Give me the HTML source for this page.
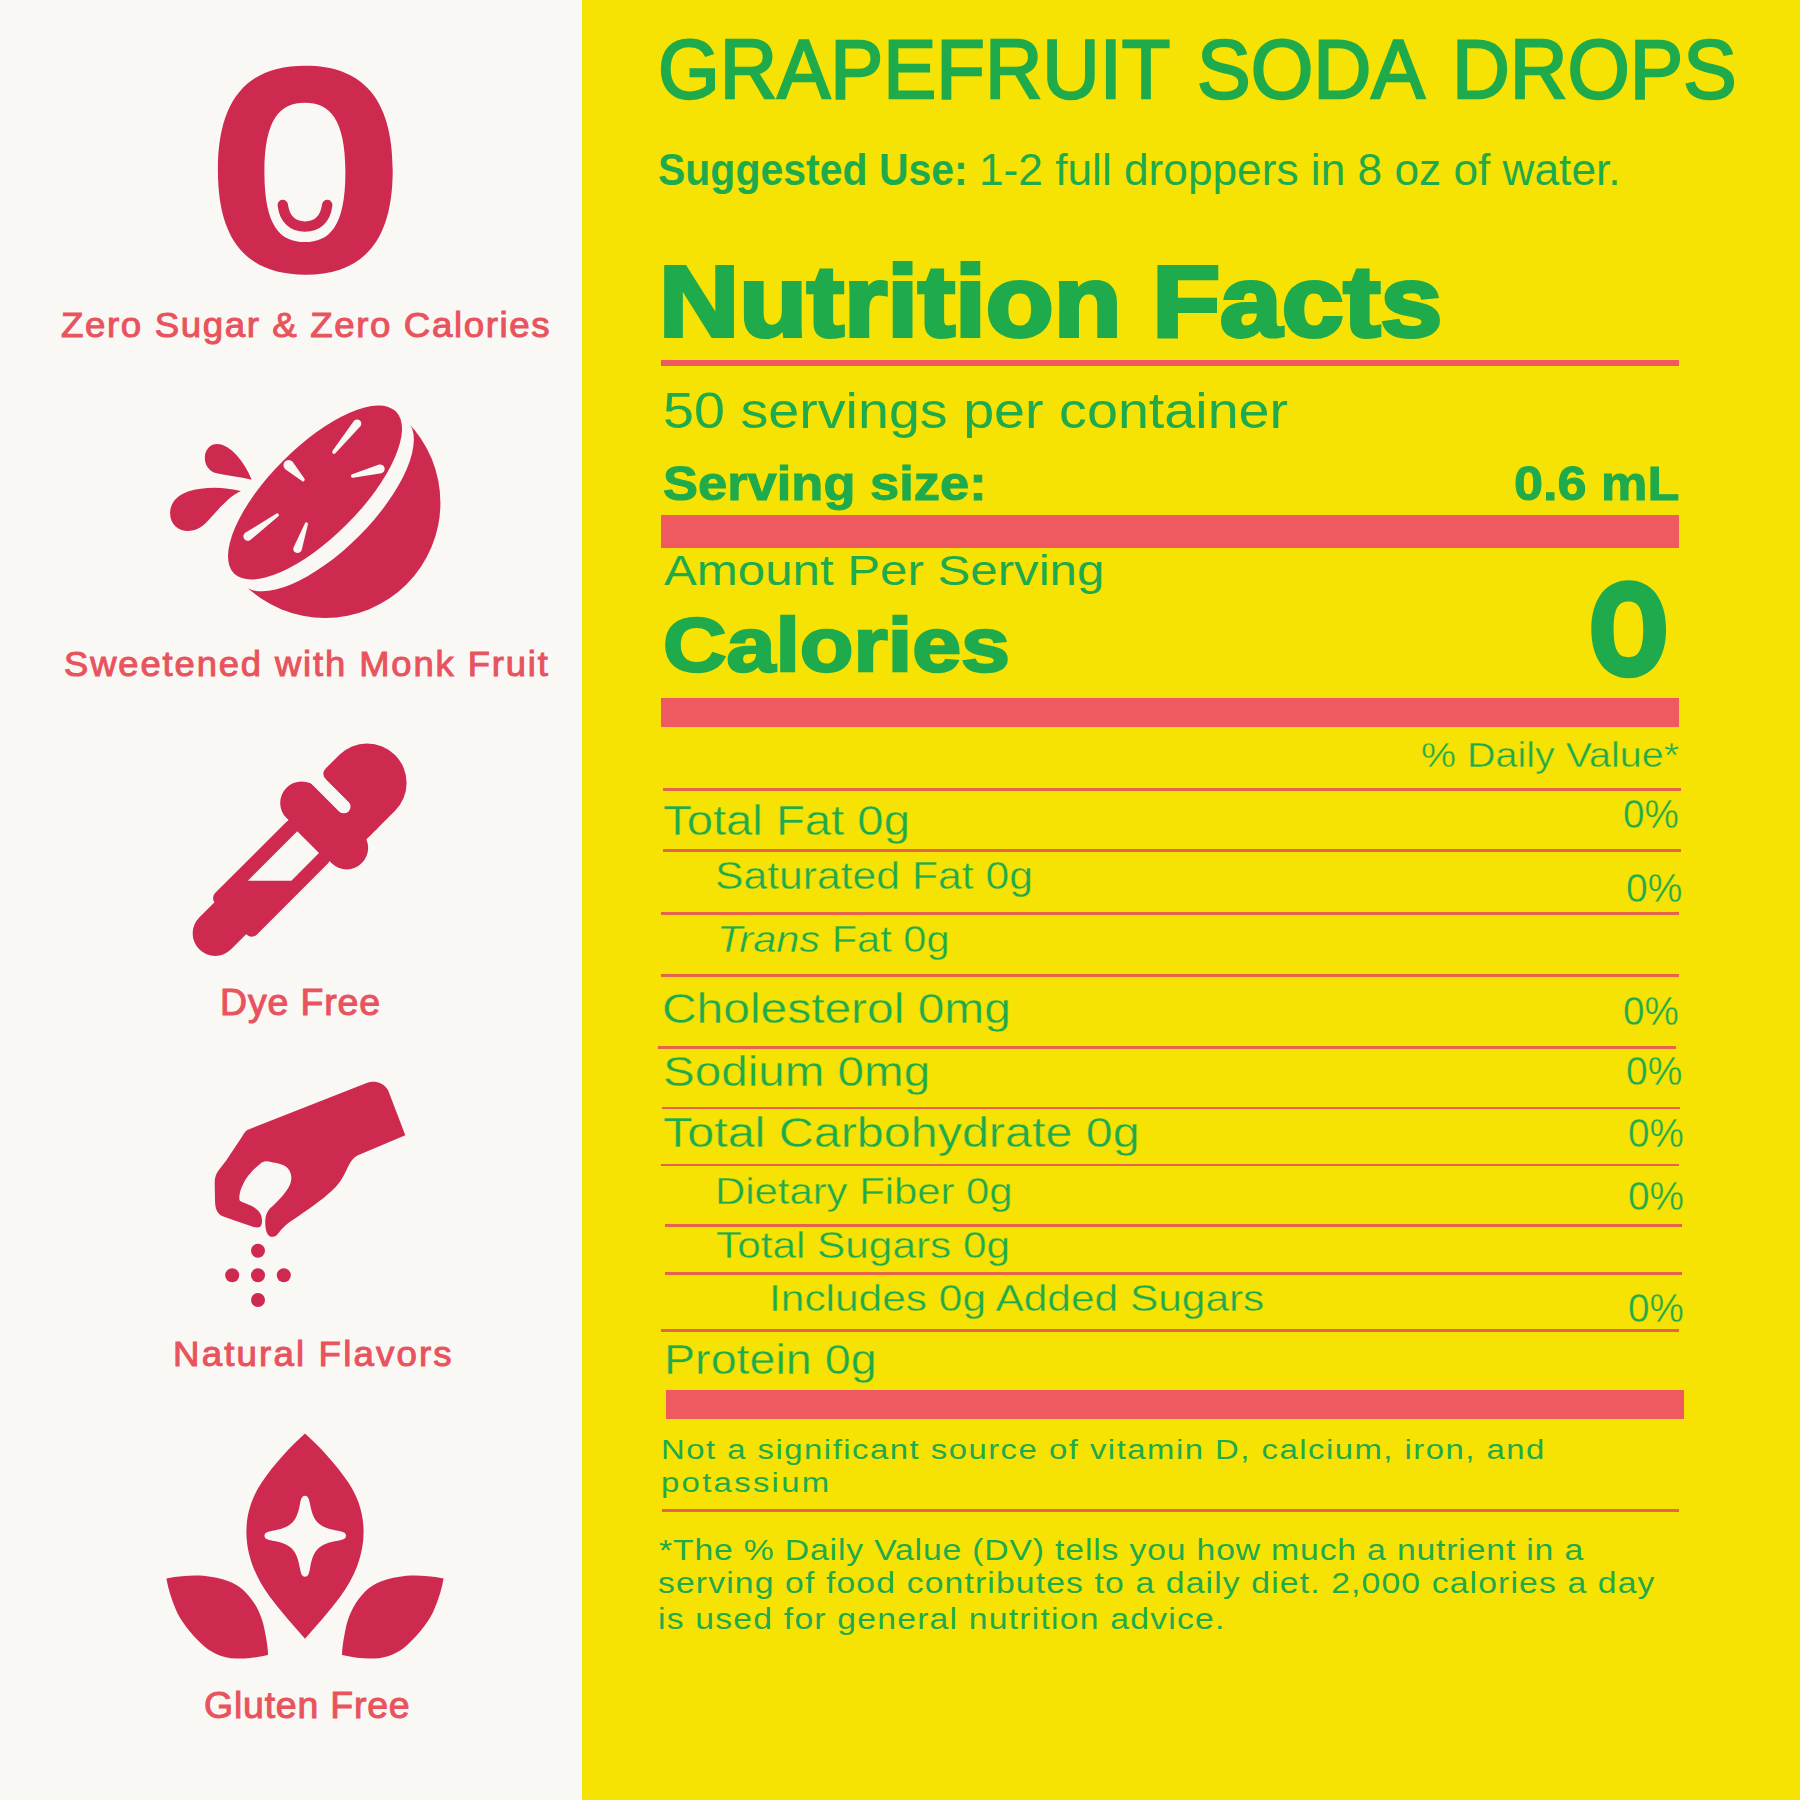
<!DOCTYPE html>
<html><head><meta charset="utf-8"><title>Grapefruit Soda Drops</title>
<style>
html,body{margin:0;padding:0}
body{width:1800px;height:1800px;position:relative;overflow:hidden;background:#faf8f4;font-family:"Liberation Sans",sans-serif}
#yl{position:absolute;left:582px;top:0;width:1218px;height:1800px;background:#f6e303}
.r{position:absolute}
.t{position:absolute;white-space:pre;transform-origin:0 0}
svg{position:absolute;left:0;top:0}
</style></head><body>
<div id="yl"></div>
<svg width="1800" height="1800" viewBox="0 0 1800 1800"><path d="M305.30,65.70 C361.24,65.70 392.70,97.05 392.70,170.20 C392.70,243.35 361.24,274.70 305.30,274.70 C249.36,274.70 217.90,243.35 217.90,170.20 C217.90,97.05 249.36,65.70 305.30,65.70 Z M304.90,102.80 C329.20,102.80 345.40,118.11 345.40,172.40 C345.40,226.69 329.20,242.00 304.90,242.00 C280.60,242.00 264.40,226.69 264.40,172.40 C264.40,118.11 280.60,102.80 304.90,102.80 Z" fill="#ce2a50" fill-rule="evenodd"/><path d="M282.8,205 C284.6,219.5 293,226.6 305,226.6 C317,226.6 325.4,219.5 327.2,205" fill="none" stroke="#ce2a50" stroke-width="10.4" stroke-linecap="round"/><path d="M406.66,421.24 A115.2,115.2 0 0 1 243.74,584.16 Z" fill="#ce2a50"/><ellipse cx="325.2" cy="502.7" rx="116.0" ry="47.5" transform="rotate(-45 325.2 502.7)" fill="#faf8f4"/><ellipse cx="315.0" cy="492.5" rx="114.5" ry="45.0" transform="rotate(-45 315.0 492.5)" fill="#ce2a50"/><path d="M353.84,420.95 L332.60,450.86 A1.8,1.8 0 0 0 335.40,453.14 L360.36,426.25 A4.2,4.2 0 0 0 353.84,420.95 Z" fill="#faf8f4"/><path d="M284.97,469.00 L301.62,480.87 A1.8,1.8 0 0 0 304.18,478.33 L292.43,461.60 A5.25,5.25 0 0 0 284.97,469.00 Z" fill="#faf8f4"/><path d="M379.08,464.54 L352.28,474.35 A1.7,1.7 0 0 0 353.12,477.65 L381.32,473.26 A4.5,4.5 0 0 0 379.08,464.54 Z" fill="#faf8f4"/><path d="M250.39,539.96 L278.10,516.48 A1.7,1.7 0 0 0 276.10,513.72 L245.21,532.84 A4.4,4.4 0 0 0 250.39,539.96 Z" fill="#faf8f4"/><path d="M301.65,550.33 L307.91,524.53 A1.6,1.6 0 0 0 304.89,523.47 L293.55,547.47 A4.3,4.3 0 0 0 301.65,550.33 Z" fill="#faf8f4"/><path d="M251.7,479.7 C240,477 226,475.5 216.7,473.3 C209,471.5 204.8,465 204.8,458 C204.8,450 210,444.1 217,444.1 C224,444.1 231,449 236.7,455.3 C243,462 248,471 251.7,479.7 Z" fill="#ce2a50"/><path d="M241,491 C225,487 205,486 188,491.5 C175,496 170,505 170.1,513 C170,524 178,531 188,531 C200,531 207,522 215,513 C224,503 232,495 241,491 Z" fill="#ce2a50"/><g transform="translate(300,850) rotate(-45)"><rect x="13" y="-53.6" width="43" height="106.6" rx="21.5" ry="21.5" fill="#ce2a50"/><rect x="45" y="-31.5" width="25" height="71" fill="#ce2a50"/><rect x="-97.5" y="-29.6" width="115" height="58.9" rx="7" ry="7" fill="#ce2a50"/><path d="M-92,-23.5 L-119,-23.5 A22.5,22.5 0 0 0 -119,21.5 L-92,21.5 Z" fill="#ce2a50"/><path d="M54.9,-80 L68.4,-80 L68.4,0.3 A6.75,6.75 0 0 1 54.9,0.3 Z" fill="#faf8f4"/><path d="M68.4,-31.5 Q68.4,-39.5 76.4,-39.5 L94.9,-39.5 A39.5,39.5 0 0 1 94.9,39.5 L68.4,39.5 Z" fill="#ce2a50"/><path d="M11.3,-15.2 L11.3,15.6 L-27.8,15.6 L-58.6,-15.2 Z" fill="#faf8f4"/></g><path d="M247.3,1130 L367.3,1082.7 C374,1080.5 383,1082 388,1090 L405.3,1135.3 L358,1155.3 C352,1158 349,1165 346,1171 C342,1180 336,1188 327,1195 C318,1203 300,1215 289,1222.5 C283,1227 279.5,1232 276.7,1235.3 C274,1237.5 269.5,1237.5 267.5,1234 C265,1229.5 265,1222 265.5,1218 C266.5,1212 269.5,1208.5 272.7,1206 C279,1200 286,1193 289.8,1185 C292.5,1178.5 291.7,1172 287,1167.5 C283,1164 276,1163 271,1162 C266,1160.5 262.5,1161.5 259.5,1164.5 C253,1169.5 246,1177 243,1184.5 C239.5,1191 239,1197 239.5,1200 C240.5,1202 244,1202.5 248.7,1204.7 C254,1206.5 258,1209.5 260.5,1214 C262.5,1218 262.5,1224 260.5,1226.5 C258.5,1228 255.5,1227.5 253,1226.7 L235.3,1220.7 L222,1216 C216,1213 215,1206 215,1200 L214.7,1183.3 C214.5,1178 216,1174 218.5,1170.5 L226,1160.7 L242,1136.7 C243.5,1134 245,1131.5 247.3,1130 Z" fill="#ce2a50"/><circle cx="258" cy="1250.7" r="7" fill="#ce2a50"/><circle cx="232.2" cy="1275.3" r="7" fill="#ce2a50"/><circle cx="258" cy="1275.3" r="7" fill="#ce2a50"/><circle cx="283.8" cy="1275.3" r="7" fill="#ce2a50"/><circle cx="258" cy="1300" r="7" fill="#ce2a50"/><path d="M305,1433.4 C290,1447 274,1464 262,1482 C252,1497 246.4,1513 246.4,1532 C246.4,1556 256,1578 270,1597 C281,1612 294,1626 305,1638.7 C316,1626 329,1612 340,1597 C354,1578 363.6,1556 363.6,1532 C363.6,1513 358,1497 348,1482 C336,1464 320,1447 305,1433.4 Z" fill="#ce2a50"/><path d="M305,1495.8 C308,1495.8 309,1498.8 310,1503.8 C313,1521.7 319,1527.7 338,1530.7 C343,1531.7 346,1532.7 346,1535.7 C346,1538.7 343,1539.7 338,1540.7 C319,1543.7 313,1549.7 310,1568.7 C309,1573.7 308,1576.7 305,1576.7 C302,1576.7 301,1573.7 300,1568.7 C297,1549.7 291,1543.7 272.5,1540.7 C267.5,1539.7 264.5,1538.7 264.5,1535.7 C264.5,1532.7 267.5,1531.7 272.5,1530.7 C291,1527.7 297,1521.7 300,1503.8 C301,1498.8 302,1495.8 305,1495.8 Z" fill="#faf8f4"/><path d="M166.4,1578.5 C185,1575 200,1575 210.3,1576.7 C228,1579 240,1585 248,1595 C258,1606 263,1620 265,1632 C267,1642 268,1650 268,1655.1 C255,1658 245,1659 236.1,1658.5 C222,1658 210,1652 201.7,1643.9 C190,1633 180,1620 175.8,1609.5 C171,1598 168,1588 166.4,1578.5 Z" fill="#ce2a50"/><path d="M166.4,1578.5 C185,1575 200,1575 210.3,1576.7 C228,1579 240,1585 248,1595 C258,1606 263,1620 265,1632 C267,1642 268,1650 268,1655.1 C255,1658 245,1659 236.1,1658.5 C222,1658 210,1652 201.7,1643.9 C190,1633 180,1620 175.8,1609.5 C171,1598 168,1588 166.4,1578.5 Z" fill="#ce2a50" transform="translate(610,0) scale(-1,1)"/><path d="M1628.70,580.30 C1651.14,580.30 1666.10,598.92 1666.10,629.30 C1666.10,659.68 1651.14,678.30 1628.70,678.30 C1606.26,678.30 1591.30,659.68 1591.30,629.30 C1591.30,598.92 1606.26,580.30 1628.70,580.30 Z M1628.40,601.40 C1637.58,601.40 1643.20,606.98 1643.20,629.30 C1643.20,651.62 1637.58,657.20 1628.40,657.20 C1619.22,657.20 1613.60,651.62 1613.60,629.30 C1613.60,606.98 1619.22,601.40 1628.40,601.40 Z" fill="#1fab4b" fill-rule="evenodd"/></svg>
<div class="r" style="left:661px;top:360.3px;width:1018.0px;height:5.7px;background:#ef5a60"></div><div class="r" style="left:661px;top:515px;width:1018.0px;height:32.8px;background:#ef5a60"></div><div class="r" style="left:661.3px;top:698.2px;width:1017.7px;height:29.2px;background:#ef5a60"></div><div class="r" style="left:663px;top:788.2px;width:1018.0px;height:2.8px;background:#e5634a"></div><div class="r" style="left:663px;top:849.2px;width:1018.0px;height:2.8px;background:#e5634a"></div><div class="r" style="left:661.3px;top:911.8px;width:1017.7px;height:2.8px;background:#e5634a"></div><div class="r" style="left:661.3px;top:974.3px;width:1017.7px;height:2.8px;background:#e5634a"></div><div class="r" style="left:658px;top:1045.9px;width:1018.0px;height:2.8px;background:#e5634a"></div><div class="r" style="left:662.2px;top:1106.5px;width:1017.8px;height:2.8px;background:#e5634a"></div><div class="r" style="left:661.3px;top:1163.5px;width:1017.7px;height:2.8px;background:#e5634a"></div><div class="r" style="left:665px;top:1223.9px;width:1017.4px;height:2.8px;background:#e5634a"></div><div class="r" style="left:665px;top:1272.2px;width:1017.4px;height:2.8px;background:#e5634a"></div><div class="r" style="left:661.3px;top:1329.3px;width:1017.7px;height:2.8px;background:#e5634a"></div><div class="r" style="left:661.7px;top:1509.1px;width:1017.1px;height:2.8px;background:#e5634a"></div><div class="r" style="left:666.2px;top:1390px;width:1017.5px;height:28.8px;background:#ef5a60"></div>
<div class="t" style="left:658.15px;top:27.80px;font-size:83.722px;line-height:83.722px;color:#1fab4b;transform:scaleX(0.9496);-webkit-text-stroke:2.4px #1fab4b;">GRAPEFRUIT</div><div class="t" style="left:1197.12px;top:27.80px;font-size:83.722px;line-height:83.722px;color:#1fab4b;transform:scaleX(0.9606);-webkit-text-stroke:2.4px #1fab4b;">SODA</div><div class="t" style="left:1452.07px;top:27.80px;font-size:83.722px;line-height:83.722px;color:#1fab4b;transform:scaleX(0.9557);-webkit-text-stroke:2.4px #1fab4b;">DROPS</div><div class="t" style="left:658.12px;top:148.70px;font-size:43.605px;line-height:43.605px;color:#1fab4b;transform:scaleX(0.9402);"><span style="font-weight:700">Suggested Use:</span></div><div class="t" style="left:978.96px;top:148.70px;font-size:43.605px;line-height:43.605px;color:#1fab4b;transform:scaleX(1.0144);">1-2 full droppers in 8 oz of water.</div><div class="t" style="left:659.44px;top:251.80px;font-size:99.856px;line-height:99.856px;color:#1fab4b;transform:scaleX(1.1119);-webkit-text-stroke:4px #1fab4b;"><span style="font-weight:700">Nutrition Facts</span></div><div class="t" style="left:662.75px;top:386.00px;font-size:49.419px;line-height:49.419px;color:#1fab4b;transform:scaleX(1.1268);">50 servings per container</div><div class="t" style="left:662.51px;top:459.50px;font-size:47.966px;line-height:47.966px;color:#1fab4b;transform:scaleX(1.0942);-webkit-text-stroke:1px #1fab4b;"><span style="font-weight:700">Serving size:</span></div><div class="t" style="left:1513.91px;top:459.50px;font-size:47.966px;line-height:47.966px;color:#1fab4b;transform:scaleX(1.0887);-webkit-text-stroke:1px #1fab4b;"><span style="font-weight:700">0.6 mL</span></div><div class="t" style="left:664.00px;top:548.80px;font-size:42.588px;line-height:42.588px;color:#1fab4b;transform:scaleX(1.1556);">Amount Per Serving</div><div class="t" style="left:663.00px;top:606.75px;font-size:76.309px;line-height:76.309px;color:#1fab4b;transform:scaleX(1.1522);-webkit-text-stroke:2.5px #1fab4b;"><span style="font-weight:700">Calories</span></div><div class="t" style="left:1421.35px;top:737.50px;font-size:34.448px;line-height:34.448px;color:#1fab4b;transform:scaleX(1.1457);-webkit-text-stroke:0.4px #f6e303;">% Daily Value*</div><div class="t" style="left:663.07px;top:800.20px;font-size:41.716px;line-height:41.716px;color:#1fab4b;transform:scaleX(1.1332);-webkit-text-stroke:0.4px #f6e303;">Total Fat 0g</div><div class="t" style="left:1623.09px;top:794.10px;font-size:40.536px;line-height:40.536px;color:#1fab4b;transform:scaleX(0.9545);-webkit-text-stroke:0.4px #f6e303;">0%</div><div class="t" style="left:715.28px;top:857.40px;font-size:38.373px;line-height:38.373px;color:#1fab4b;transform:scaleX(1.1125);-webkit-text-stroke:0.4px #f6e303;">Saturated Fat 0g</div><div class="t" style="left:1626.02px;top:867.60px;font-size:41.384px;line-height:41.384px;color:#1fab4b;transform:scaleX(0.9411);-webkit-text-stroke:0.4px #f6e303;">0%</div><div class="t" style="left:717.20px;top:921.90px;font-size:36.919px;line-height:36.919px;color:#1fab4b;transform:scaleX(1.1260);-webkit-text-stroke:0.4px #f6e303;"><span style="font-style:italic">Trans</span> Fat 0g</div><div class="t" style="left:662.46px;top:987.20px;font-size:42.733px;line-height:42.733px;color:#1fab4b;transform:scaleX(1.1216);-webkit-text-stroke:0.4px #f6e303;">Cholesterol 0mg</div><div class="t" style="left:1622.83px;top:990.70px;font-size:41.384px;line-height:41.384px;color:#1fab4b;transform:scaleX(0.9339);-webkit-text-stroke:0.4px #f6e303;">0%</div><div class="t" style="left:662.72px;top:1051.00px;font-size:41.716px;line-height:41.716px;color:#1fab4b;transform:scaleX(1.1409);-webkit-text-stroke:0.4px #f6e303;">Sodium 0mg</div><div class="t" style="left:1626.02px;top:1051.40px;font-size:41.384px;line-height:41.384px;color:#1fab4b;transform:scaleX(0.9411);-webkit-text-stroke:0.4px #f6e303;">0%</div><div class="t" style="left:663.04px;top:1111.90px;font-size:41.861px;line-height:41.861px;color:#1fab4b;transform:scaleX(1.1574);-webkit-text-stroke:0.4px #f6e303;">Total Carbohydrate 0g</div><div class="t" style="left:1627.99px;top:1113.40px;font-size:40.536px;line-height:40.536px;color:#1fab4b;transform:scaleX(0.9545);-webkit-text-stroke:0.4px #f6e303;">0%</div><div class="t" style="left:714.90px;top:1174.40px;font-size:36.919px;line-height:36.919px;color:#1fab4b;transform:scaleX(1.1335);-webkit-text-stroke:0.4px #f6e303;">Dietary Fiber 0g</div><div class="t" style="left:1627.99px;top:1175.80px;font-size:40.678px;line-height:40.678px;color:#1fab4b;transform:scaleX(0.9545);-webkit-text-stroke:0.4px #f6e303;">0%</div><div class="t" style="left:716.38px;top:1227.20px;font-size:37.646px;line-height:37.646px;color:#1fab4b;transform:scaleX(1.1244);-webkit-text-stroke:0.4px #f6e303;">Total Sugars 0g</div><div class="t" style="left:769.42px;top:1280.00px;font-size:37.646px;line-height:37.646px;color:#1fab4b;transform:scaleX(1.1276);-webkit-text-stroke:0.4px #f6e303;">Includes 0g Added Sugars</div><div class="t" style="left:1627.99px;top:1288.10px;font-size:40.536px;line-height:40.536px;color:#1fab4b;transform:scaleX(0.9545);-webkit-text-stroke:0.4px #f6e303;">0%</div><div class="t" style="left:663.86px;top:1339.40px;font-size:41.861px;line-height:41.861px;color:#1fab4b;transform:scaleX(1.1141);-webkit-text-stroke:0.4px #f6e303;">Protein 0g</div><div class="t" style="left:660.68px;top:1434.70px;font-size:28.344px;line-height:28.344px;color:#1fab4b;transform:scaleX(1.1600);letter-spacing:1.284px;">Not a significant source of vitamin D, calcium, iron, and</div><div class="t" style="left:660.98px;top:1468.00px;font-size:28.344px;line-height:28.344px;color:#1fab4b;transform:scaleX(1.1600);letter-spacing:1.983px;">potassium</div><div class="t" style="left:658.54px;top:1536.00px;font-size:29.070px;line-height:29.070px;color:#1fab4b;transform:scaleX(1.1600);letter-spacing:0.724px;">*The % Daily Value (DV) tells you how much a nutrient in a</div><div class="t" style="left:658.04px;top:1569.30px;font-size:29.070px;line-height:29.070px;color:#1fab4b;transform:scaleX(1.1600);letter-spacing:0.977px;">serving of food contributes to a daily diet. 2,000 calories a day</div><div class="t" style="left:657.68px;top:1604.70px;font-size:29.070px;line-height:29.070px;color:#1fab4b;transform:scaleX(1.1600);letter-spacing:1.040px;">is used for general nutrition advice.</div><div class="t" style="left:60.97px;top:308.00px;font-size:35.611px;line-height:35.611px;color:#e8535e;transform:scaleX(1.0300);-webkit-text-stroke:1.0px #e8535e;letter-spacing:1.560px;">Zero Sugar &amp; Zero Calories</div><div class="t" style="left:64.27px;top:645.80px;font-size:35.320px;line-height:35.320px;color:#e8535e;transform:scaleX(1.0300);-webkit-text-stroke:1.0px #e8535e;letter-spacing:1.831px;">Sweetened with Monk Fruit</div><div class="t" style="left:219.64px;top:985.30px;font-size:36.338px;line-height:36.338px;color:#e8535e;transform:scaleX(1.0300);-webkit-text-stroke:1.0px #e8535e;letter-spacing:0.863px;">Dye Free</div><div class="t" style="left:173.14px;top:1337.00px;font-size:35.611px;line-height:35.611px;color:#e8535e;transform:scaleX(1.0300);-webkit-text-stroke:1.0px #e8535e;letter-spacing:2.083px;">Natural Flavors</div><div class="t" style="left:203.87px;top:1688.40px;font-size:36.338px;line-height:36.338px;color:#e8535e;transform:scaleX(1.0300);-webkit-text-stroke:1.0px #e8535e;letter-spacing:0.786px;">Gluten Free</div>
</body></html>
